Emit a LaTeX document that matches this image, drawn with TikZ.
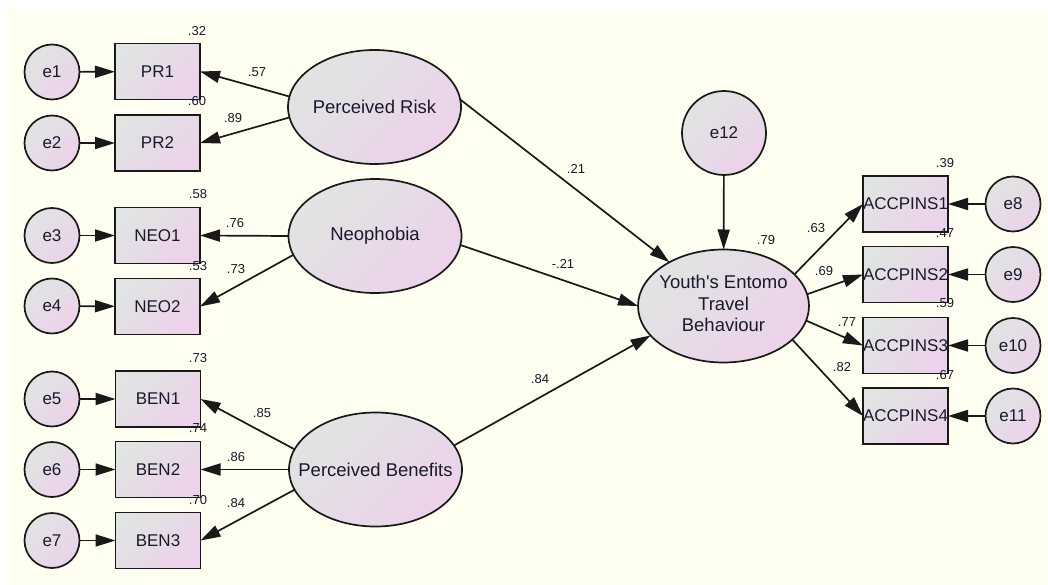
\documentclass[tikz,border=0pt]{standalone}
\usepackage{fontspec}
\setmainfont{Liberation Sans}
\newfontfamily\plainfont{Liberation Sans}
\usetikzlibrary{shapes.geometric,arrows.meta}
\definecolor{cream}{RGB}{254,255,240}
\definecolor{gr}{RGB}{224,228,226}
\definecolor{pk}{RGB}{236,210,234}
\definecolor{ln}{RGB}{25,25,25}
\definecolor{tx}{RGB}{25,25,45}
\newcommand{\zb}[1]{\makebox[0pt]{#1}}
\tikzset{
  shd/.style={top color=gr, bottom color=pk, shading angle=45, draw=ln, line width=1.7pt, text=tx, inner sep=0pt, outer sep=0pt, font=\fontsize{17}{21.5}\selectfont},
  obs/.style={shd, rectangle, minimum width=85pt, minimum height=56pt},
  err/.style={shd, circle, minimum size=55pt},
  lat/.style={shd, ellipse, minimum width=173pt, minimum height=114pt, font=\fontsize{18.5}{21.5}\selectfont},
  num/.style={text=tx, font=\fontsize{13}{15}\selectfont, inner sep=0pt},
  arr/.style={draw=ln, line width=1.7pt, -{Triangle[length=20pt,width=12pt]}}
}
\begin{document}
\begin{tikzpicture}[x=1pt,y=-1pt]
\useasboundingbox (0,0) rectangle (1048,585);
\fill[cream] (8,9) rectangle (1048,585);
% latent
\node[lat] (PR) at (374.5,107) {\zb{Perceived Risk}};
\node[lat] (NEO) at (375,236) {\zb{Neophobia}};
\node[lat] (BEN) at (375.5,469.5) {\zb{Perceived Benefits}};
\node[lat, minimum width=171pt, minimum height=113pt] (Y) at (723.5,306) {\zb{\begin{tabular}{@{}c@{}}Youth{\plainfont'}s Entomo\\Travel\\Behaviour\end{tabular}}};
% observed
\node[obs] (PR1) at (157.5,71.5) {PR1};
\node[obs] (PR2) at (157.5,143) {PR2};
\node[obs] (NEO1) at (157.5,235.5) {NEO1};
\node[obs] (NEO2) at (157.5,306.5) {NEO2};
\node[obs] (BEN1) at (158,399) {BEN1};
\node[obs] (BEN2) at (158,469.5) {BEN2};
\node[obs] (BEN3) at (158,540.5) {BEN3};
\node[obs] (A1) at (905.5,204) {\zb{ACCPINS1}};
\node[obs] (A2) at (905.5,274.5) {\zb{ACCPINS2}};
\node[obs] (A3) at (905.5,345.5) {\zb{ACCPINS3}};
\node[obs] (A4) at (905.5,416) {\zb{ACCPINS4}};
% errors
\node[err] (e1) at (52,72) {e1};
\node[err] (e2) at (52,143) {e2};
\node[err] (e3) at (52,235.5) {e3};
\node[err] (e4) at (52,306) {e4};
\node[err] (e5) at (52,399) {e5};
\node[err] (e6) at (52,469.5) {e6};
\node[err] (e7) at (52,540.5) {e7};
\node[err] (e8) at (1013,204) {e8};
\node[err] (e9) at (1013,274.5) {e9};
\node[err] (e10) at (1013,345.5) {e10};
\node[err] (e11) at (1013,416) {e11};
\node[err, minimum size=84pt] (e12) at (724,133) {e12};
% error arrows
\foreach \a/\b in {e1/PR1,e2/PR2,e3/NEO1,e4/NEO2,e5/BEN1,e6/BEN2,e7/BEN3,e8/A1,e9/A2,e10/A3,e11/A4}
  \draw[arr] (\a) -- (\b);
\draw[arr] (e12) -- (Y);
% loadings
\draw[arr] (PR.173) -- (PR1.east);
\draw[arr] (PR.187) -- (PR2.east);
\draw[arr] (NEO.west) -- (NEO1.east);
\draw[arr] (NEO.193.7) -- (NEO2.east);
\draw[arr] (BEN.166) -- (BEN1.east);
\draw[arr] (BEN.west) -- (BEN2.east);
\draw[arr] (BEN.194) -- (BEN3.east);
% structural
\draw[arr] (PR.5) -- (Y.141.8);
\draw[arr] (NEO.-6) -- (Y.180.5);
\draw[arr] (BEN.17.8) -- (Y.202.5);
\draw[arr] (Y.24.6) -- (A1.west);
\draw[arr] (Y.8.8) -- (A2.west);
\draw[arr] (Y.-10.8) -- (A3.west);
\draw[arr] (Y.-26.6) -- (A4.west);
% numbers
\node[num] (n1) at (197,31) {.32};
\node[num] (n2) at (197,101) {.60};
\node[num] (n3) at (257,72) {.57};
\node[num] (n4) at (233,118) {.89};
\node[num] (n5) at (198,194) {.58};
\node[num] (n6) at (235,223) {.76};
\node[num] (n7) at (198,266) {.53};
\node[num] (n8) at (236,269) {.73};
\node[num] (n9) at (198,358) {.73};
\node[num] (n10) at (262,413) {.85};
\node[num] (n11) at (198,428) {.74};
\node[num] (n12) at (236,457) {.86};
\node[num] (n13) at (198,500) {.70};
\node[num] (n14) at (236,503) {.84};
\node[num] (n15) at (576,169) {.21};
\node[num] (n16) at (563,264) {-.21};
\node[num] (n17) at (540,379) {.84};
\node[num] (n18) at (766,240) {.79};
\node[num] (n19) at (945,163) {.39};
\node[num] (n20) at (816,228) {.63};
\node[num] (n21) at (945,233) {.47};
\node[num] (n22) at (824,271) {.69};
\node[num] (n23) at (945,303) {.59};
\node[num] (n24) at (847,322) {.77};
\node[num] (n25) at (945,375) {.67};
\node[num] (n26) at (842,367) {.82};
\end{tikzpicture}
\end{document}
